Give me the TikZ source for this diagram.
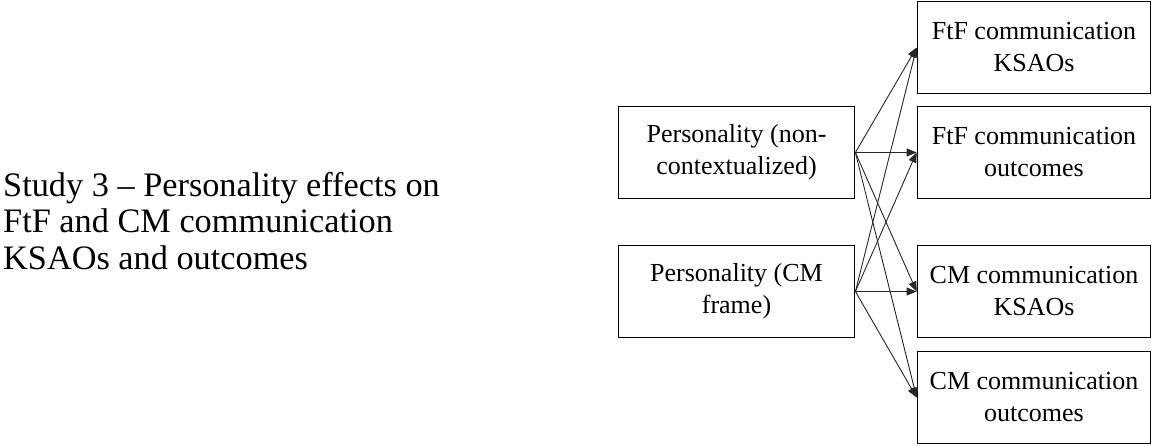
\documentclass[tikz,border=0pt]{standalone}
\usepackage{fontspec}
\setmainfont{Liberation Serif}
\usetikzlibrary{arrows.meta}
\begin{document}
\begin{tikzpicture}[x=1pt,y=-1pt,
  box/.style={draw,line width=1.8pt,minimum width=236pt,minimum height=92pt,
    inner sep=0pt,align=center,font=\fontsize{26}{32}\selectfont},
  arr/.style={line width=0.9pt,draw=black!85,-{Triangle[length=10pt,width=8pt]}}]
\useasboundingbox (0,0) rectangle (1153,445);
% heading on the left
\node[anchor=west,align=left,inner sep=0pt,font=\fontsize{34.3}{36.5}\selectfont]
  (title) at (3,221) {Study 3 -- Personality effects on\\FtF and CM communication\\KSAOs and outcomes};
% predictors
\node[box] (p1) at (736.5,152.5) {Personality (non-\\contextualized)};
\node[box] (p2) at (736.5,291.5) {Personality (CM\\frame)};
% outcomes
\node[box,minimum width=233pt] (f1) at (1034,47.5) {FtF communication\\KSAOs};
\node[box,minimum width=233pt] (f2) at (1034,152.5) {FtF communication\\outcomes};
\node[box,minimum width=233pt] (c1) at (1034,291.5) {CM communication\\KSAOs};
\node[box,minimum width=233pt] (c2) at (1034,397.5) {CM communication\\outcomes};
% paths
\foreach \s in {p1,p2}
  \foreach \t in {f1,f2,c1,c2}
    \draw[arr] (\s.east) -- (\t.west);
\end{tikzpicture}
\end{document}
